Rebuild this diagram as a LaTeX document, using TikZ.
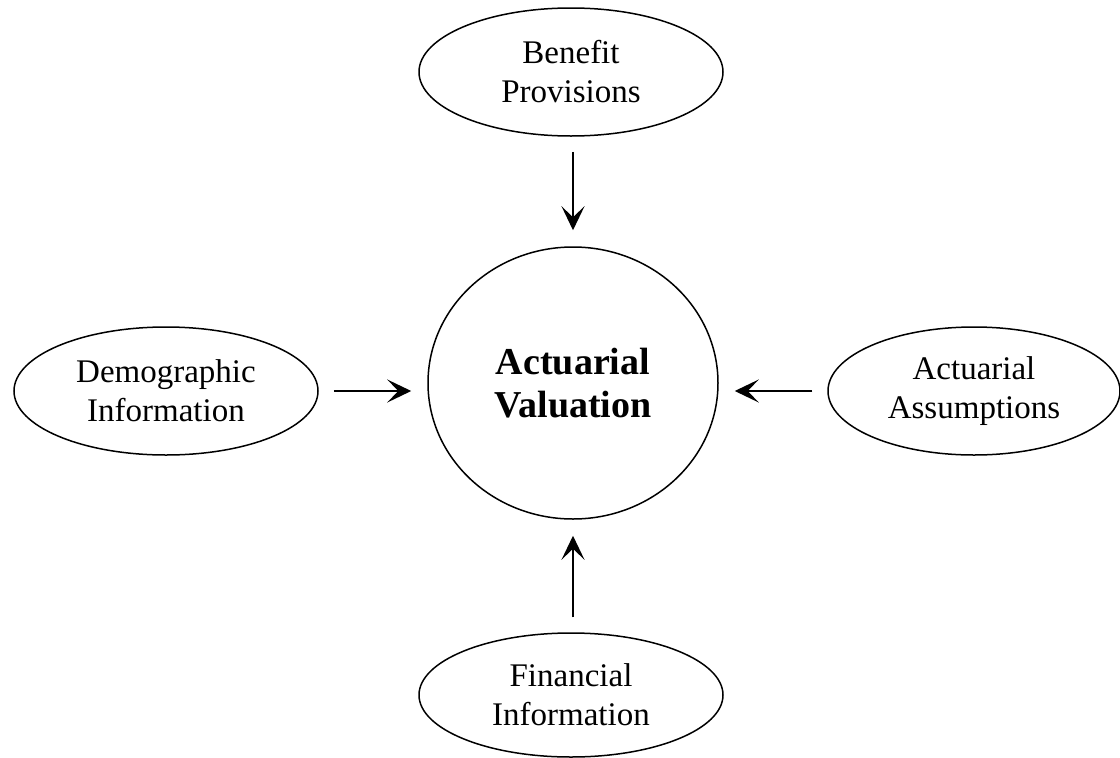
\documentclass[tikz,border=0pt]{standalone}
\usepackage{fontspec}
\setmainfont{Liberation Serif}
\usetikzlibrary{shapes.geometric,arrows.meta}
\begin{document}
\begin{tikzpicture}[x=1pt,y=-1pt,
  oval/.style={draw, line width=1.5pt, ellipse, inner sep=0pt, minimum width=304pt, minimum height=128pt, align=center, font=\fontsize{33}{39}\selectfont},
  hub/.style={draw, line width=1.5pt, ellipse, inner sep=0pt, minimum width=290pt, minimum height=272pt, align=center, font=\fontsize{38}{43}\selectfont\bfseries},
  arr/.style={line width=2.3pt, -{Stealth[length=24pt,width=23pt,inset=11pt]}, shorten <=15pt, shorten >=16pt}]
\useasboundingbox (0,0) rectangle (1120,758);
\node[hub] (c) at (573,383) {Actuarial\\Valuation};
\node[oval] (top) at (571,72) {Benefit\\Provisions};
\node[oval] (left) at (166,391) {Demographic\\Information};
\node[oval, minimum width=292pt] (right) at (974,391) {Actuarial\\Assumptions};
\node[oval, minimum height=124pt] (bot) at (571,695) {Financial\\Information};
\draw[arr] (top.south -| c.center) -- (c.north);
\draw[arr] (left.east) -- (left.east -| c.west);
\draw[arr] (right.west) -- (right.west -| c.east);
\draw[arr] (bot.north -| c.center) -- (c.south);
\end{tikzpicture}
\end{document}
